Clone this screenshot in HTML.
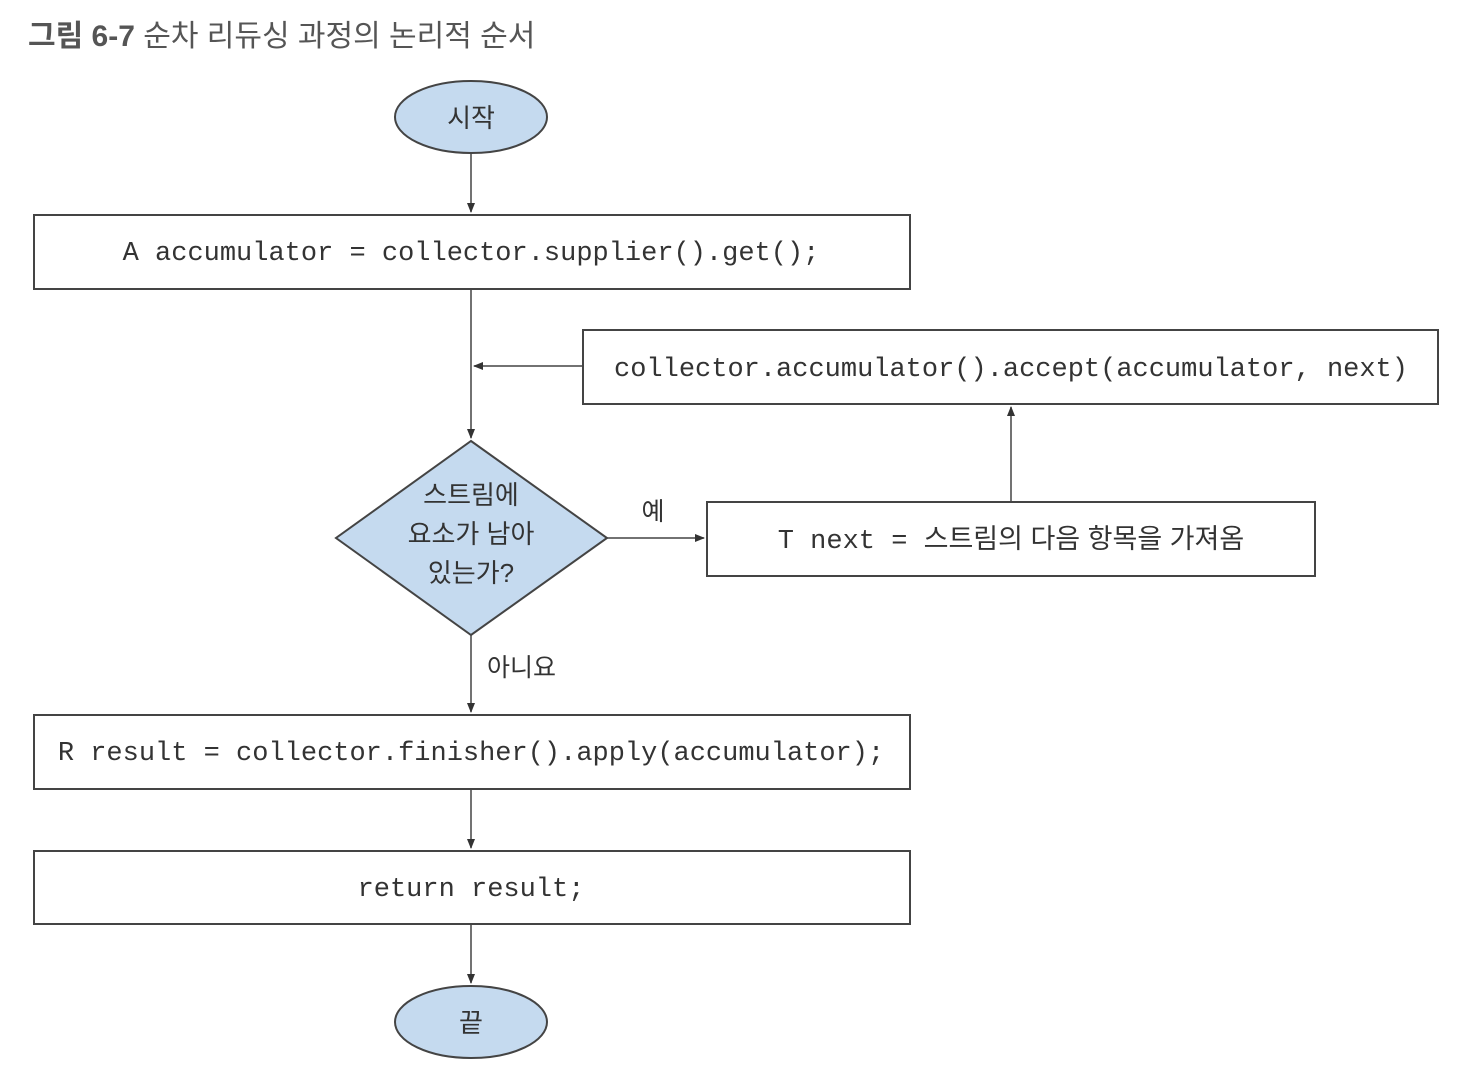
<!DOCTYPE html>
<html><head><meta charset="utf-8"><style>
body{margin:0;background:#fff;}
svg{display:block}
.m{font-family:"Liberation Mono",monospace;font-size:27px;fill:#333}
.k{font-family:"Liberation Sans","Noto Sans CJK KR",sans-serif;fill:#333}
</style></head><body>
<svg width="1458" height="1076" viewBox="0 0 1458 1076">
<defs><marker id="a" markerWidth="10" markerHeight="8" refX="9" refY="4" orient="auto" markerUnits="userSpaceOnUse"><path d="M0,0L10,4L0,8z" fill="#333"/></marker></defs>
<text x="28" y="46" class="k" font-size="30" font-weight="bold" style="fill:#555">그림 6-7 <tspan font-weight="normal">순차 리듀싱 과정의 논리적 순서</tspan></text>
<g stroke="#444" stroke-width="2" fill="none">
<ellipse cx="471" cy="117" rx="76" ry="36" fill="#c5daef"/>
<rect x="34" y="215" width="876" height="74" fill="#fff"/>
<rect x="583" y="330" width="855" height="74" fill="#fff"/>
<polygon points="471,441 607,538 471,635 336,538" fill="#c5daef"/>
<rect x="707" y="502" width="608" height="74" fill="#fff"/>
<rect x="34" y="715" width="876" height="74" fill="#fff"/>
<rect x="34" y="851" width="876" height="73" fill="#fff"/>
<ellipse cx="471" cy="1022" rx="76" ry="36" fill="#c5daef"/>
<g stroke-width="1.5">
<line x1="471" y1="153" x2="471" y2="212" marker-end="url(#a)"/>
<line x1="471" y1="289" x2="471" y2="438" marker-end="url(#a)"/>
<line x1="583" y1="366" x2="474" y2="366" marker-end="url(#a)"/>
<line x1="607" y1="538" x2="704" y2="538" marker-end="url(#a)"/>
<line x1="1011" y1="502" x2="1011" y2="407" marker-end="url(#a)"/>
<line x1="471" y1="635" x2="471" y2="712" marker-end="url(#a)"/>
<line x1="471" y1="789" x2="471" y2="848" marker-end="url(#a)"/>
<line x1="471" y1="924" x2="471" y2="983" marker-end="url(#a)"/>
</g></g>
<text x="471" y="127" class="k" font-size="26" text-anchor="middle">시작</text>
<text x="471" y="1032" class="k" font-size="26" text-anchor="middle">끝</text>
<text x="471" y="260" class="m" text-anchor="middle">A accumulator = collector.supplier().get();</text>
<text x="1011" y="376" class="m" text-anchor="middle">collector.accumulator().accept(accumulator, next)</text>
<text x="1011" y="548" text-anchor="middle"><tspan class="m">T next = </tspan><tspan class="k" font-size="27">스트림의 다음 항목을 가져옴</tspan></text>
<text x="471" y="760" class="m" text-anchor="middle">R result = collector.finisher().apply(accumulator);</text>
<text x="471" y="896" class="m" text-anchor="middle">return result;</text>
<text x="471" y="504" class="k" font-size="26" text-anchor="middle">스트림에</text>
<text x="471" y="543" class="k" font-size="26" text-anchor="middle">요소가 남아</text>
<text x="471" y="582" class="k" font-size="26" text-anchor="middle">있는가?</text>
<text x="653" y="520" class="k" font-size="25" text-anchor="middle">예</text>
<text x="487" y="676" class="k" font-size="25">아니요</text>
</svg>
</body></html>
